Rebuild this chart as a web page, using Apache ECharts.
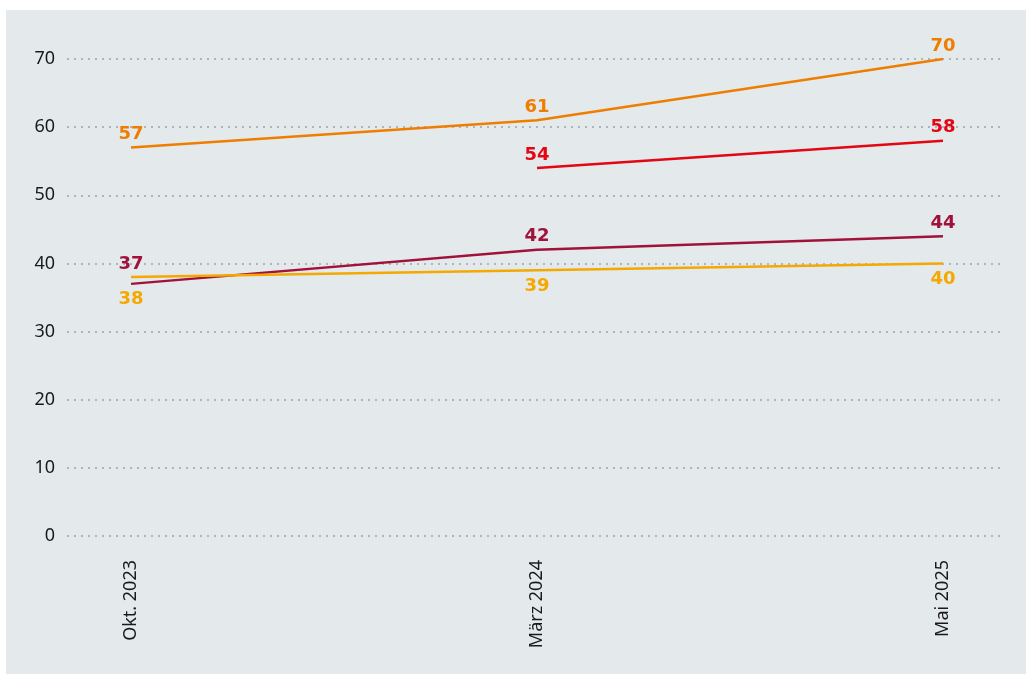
<!DOCTYPE html>
<html><head><meta charset="utf-8">
<script src="https://cdn.jsdelivr.net/npm/echarts@6/dist/echarts.min.js"></script>
<style>html,body{margin:0;padding:0;background:#fff}#c{width:1026px;height:675px}</style>
</head><body><div id="c"></div>
<script>
const categories = ['Okt. 2023', 'März 2024', 'Mai 2025'];
const seriesOrange = [57, 61, 70];
const seriesRed = [null, 54, 58];
const seriesMaroon = [37, 42, 44];
const seriesYellow = [38, 39, 40];
const yTicks = [0, 10, 20, 30, 40, 50, 60, 70];

const FONT = '"Noto Sans", sans-serif';
const LFONT = '"DejaVu Sans", sans-serif';
const chart = echarts.init(document.getElementById('c'));

function mk(name, data, color, pos, dist, extra) {
  return {
    name, type: 'line', xAxisIndex: 1, yAxisIndex: 1, data: data.map((v, i) => {
      const item = { value: v };
      if (extra && extra[i]) item.label = { offset: extra[i] };
      return item;
    }),
    symbol: 'circle', symbolSize: 0, showSymbol: true, lineStyle: { color, width: 2.5 }, itemStyle: { color },
    connectNulls: false, silent: true,
    label: { show: true, position: pos, distance: dist, color, fontSize: 18, fontWeight: 'bold', fontFamily: LFONT }
  };
}

chart.setOption({
  animation: false,
  backgroundColor: '#ffffff',
  graphic: [{ type: 'rect', z: -10, shape: { x: 6, y: 10, width: 1020, height: 664 }, style: { fill: '#e4e9ec' } }],
  grid: [
    { left: 67, right: 26, top: 59, bottom: 139 },
    { left: 131, right: 83, top: 59, bottom: 139 }
  ],
  xAxis: [
    { gridIndex: 0, type: 'value', min: 0, max: 1, show: false },
    { gridIndex: 1, type: 'category', data: categories, boundaryGap: false,
      axisLine: { show: false }, axisTick: { show: false }, splitLine: { show: false },
      axisLabel: { rotate: 90, margin: 24, color: '#1a1a1a', fontSize: 18, fontFamily: FONT } }
  ],
  yAxis: [
    { gridIndex: 0, type: 'value', min: 0, max: 70, interval: 10,
      axisLine: { show: false }, axisTick: { show: false },
      axisLabel: { margin: 12, color: '#1a1a1a', fontSize: 18, fontFamily: FONT },
      splitLine: { show: true, lineStyle: { color: '#9aa3aa', type: [2, 5], width: 1.5 } } },
    { gridIndex: 1, type: 'value', min: 0, max: 70, interval: 10, show: false, splitLine: { show: false } }
  ],
  series: [
    mk('Orange', seriesOrange, '#ef7d00', 'top', 4),
    mk('Red', seriesRed, '#e30613', 'top', 4),
    mk('Maroon', seriesMaroon, '#a1123a', 'top', 4, [[0, -7]]),
    mk('Yellow', seriesYellow, '#f5a800', 'bottom', 7, [[0, 6]])
  ]
});
</script></body></html>
